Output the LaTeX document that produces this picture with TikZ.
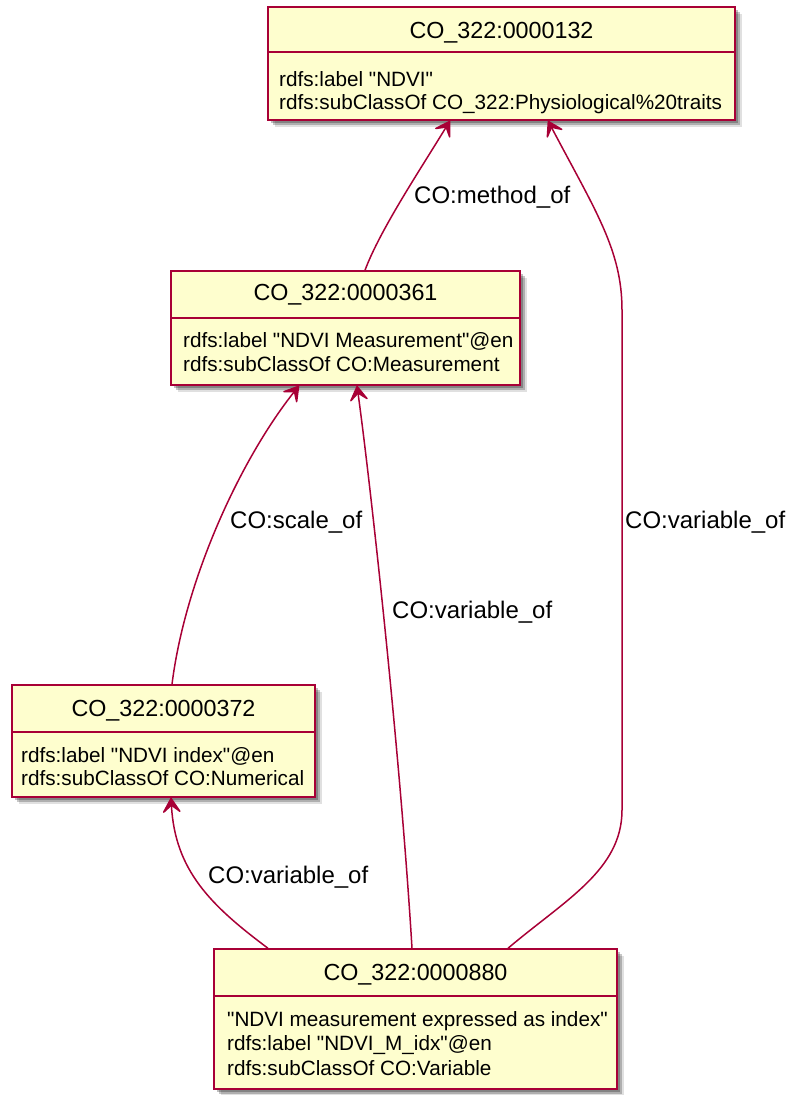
\documentclass[tikz,border=0pt]{standalone}
\usepackage{fontspec}
\setmainfont[Ligatures=TeXOff]{Liberation Sans}
\usetikzlibrary{arrows.meta,shadows}
\definecolor{clsfill}{HTML}{FEFECE}
\definecolor{clsline}{HTML}{A80036}
\begin{document}
\begin{tikzpicture}[x=1pt,y=-1pt,
  cls/.style={draw=clsline, fill=clsfill, line width=1.5pt, inner sep=0pt,
    drop shadow={shadow xshift=7pt, shadow yshift=-7pt, fill=black, opacity=0.12},
    drop shadow={shadow xshift=5pt, shadow yshift=-5pt, fill=black, opacity=0.22},
    drop shadow={shadow xshift=3pt, shadow yshift=-3pt, fill=black, opacity=0.25}},
  sepline/.style={draw=clsline, line width=1.2pt},
  ttl/.style={anchor=base, inner sep=0pt, font=\fontsize{23.3}{28}\selectfont},
  body/.style={anchor=base west, inner sep=0pt, font=\fontsize{20.7}{24}\selectfont},
  rel/.style={draw=clsline, line width=1.5pt, -{Stealth[length=18pt,width=22pt,inset=9pt,round]}},
  lbl/.style={anchor=base west, inner sep=0pt, font=\fontsize{24}{28}\selectfont}
]
\useasboundingbox (0,0) rectangle (787,1095);

% classes
\node[cls, minimum width=467pt, minimum height=113pt] (n132) at (501.5,63.5) {};
\draw[sepline] (268,52) -- (735,52);
\node[ttl] (t132) at (501.5,38.5) {CO\_322:0000132};
\node[body] (b132a) at (279,86) {rdfs:label "NDVI"};
\node[body] (b132b) at (279,109.5) {rdfs:subClassOf CO\_322:Physiological\%20traits};

\node[cls, minimum width=349pt, minimum height=114pt] (n361) at (345.5,328) {};
\draw[sepline] (171,318) -- (520,318);
\node[ttl] (t361) at (345.5,300.5) {CO\_322:0000361};
\node[body] (b361a) at (183,347) {rdfs:label "NDVI Measurement"@en};
\node[body] (b361b) at (183,371) {rdfs:subClassOf CO:Measurement};

\node[cls, minimum width=303pt, minimum height=112pt] (n372) at (163.5,741) {};
\draw[sepline] (12,732) -- (315,732);
\node[ttl] (t372) at (163.5,716.5) {CO\_322:0000372};
\node[body] (b372a) at (21,762) {rdfs:label "NDVI index"@en};
\node[body] (b372b) at (21,785) {rdfs:subClassOf CO:Numerical};

\node[cls, minimum width=403pt, minimum height=140pt] (n880) at (415.5,1019) {};
\draw[sepline] (214,996) -- (617,996);
\node[ttl] (t880) at (415.5,980) {CO\_322:0000880};
\node[body] (b880a) at (227,1026) {"NDVI measurement expressed as index"};
\node[body] (b880b) at (227,1050) {rdfs:label "NDVI\_M\_idx"@en};
\node[body] (b880c) at (227,1075) {rdfs:subClassOf CO:Variable};

% relations
\draw[rel] ([xshift=19.5pt]n361.north) .. controls (380,230) and (420,170) .. ([xshift=-51.5pt]n132.south);
\node[lbl] (l1) at (414,203) {CO:method\_of};

\draw[rel] ([xshift=92.5pt]n880.north) .. controls (565,900) and (622,870) .. (622,810)
  -- (622,310) .. controls (622,250) and (595,210) .. ([xshift=46.5pt]n132.south);
\node[lbl] (l2) at (625,528) {CO:variable\_of};

\draw[rel] ([xshift=8.5pt]n372.north) .. controls (185,580) and (240,460) .. ([xshift=-46.5pt]n361.south);
\node[lbl] (l3) at (230,528) {CO:scale\_of};

\draw[rel] ([xshift=-3.5pt]n880.north) .. controls (400,750) and (370,480) .. ([xshift=11.5pt]n361.south);
\node[lbl] (l4) at (392,618) {CO:variable\_of};

\draw[rel] ([xshift=-147.5pt]n880.north) .. controls (210,905) and (175,870) .. ([xshift=7.5pt]n372.south);
\node[lbl] (l5) at (208,883) {CO:variable\_of};
\end{tikzpicture}
\end{document}
